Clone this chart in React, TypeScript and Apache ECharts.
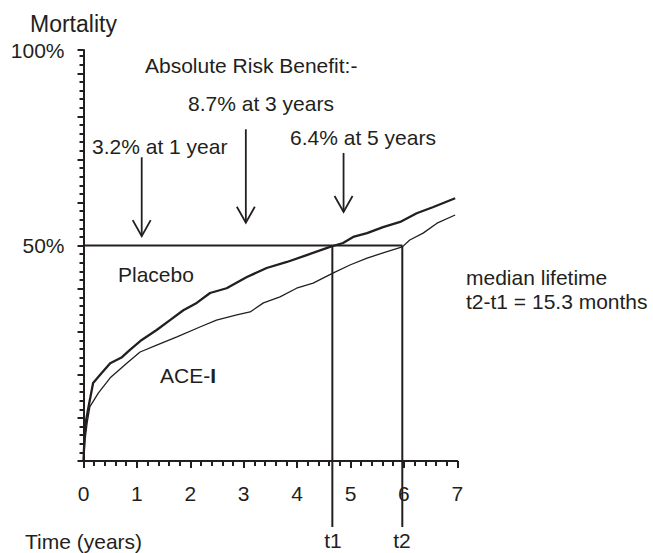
import React, { useEffect, useRef } from "react";
import * as echarts from "echarts";

// Kaplan-Meier style cumulative mortality curves: [time (years), mortality %]
const placebo: number[][] = [
  [0, 0], [0.02, 6], [0.05, 9.5], [0.09, 12.3], [0.18, 18.1], [0.34, 20.4], [0.5, 22.7],
  [0.72, 24.1], [0.87, 25.8], [1.09, 28.1], [1.37, 30.4], [1.62, 32.7], [1.87, 35.0],
  [2.12, 36.7], [2.37, 39.0], [2.68, 40.1], [3.06, 42.7], [3.43, 44.8], [3.81, 46.2],
  [4.18, 47.8], [4.55, 49.4], [4.67, 49.9], [4.86, 50.6], [5.05, 52.0], [5.31, 52.9],
  [5.61, 54.3], [5.93, 55.5], [6.24, 57.5], [6.54, 58.9], [6.96, 61.0],
];
const aceI: number[][] = [
  [0, 0], [0.03, 5], [0.07, 9], [0.12, 12.6], [0.28, 15.8], [0.5, 19.3], [0.81, 22.7],
  [1.06, 25.3], [1.37, 26.9], [1.75, 28.8], [2.18, 31.1], [2.49, 32.7], [2.87, 33.9],
  [3.12, 34.6], [3.37, 36.7], [3.68, 38.1], [3.99, 40.1], [4.3, 41.3], [4.67, 43.6],
  [4.99, 45.5], [5.31, 47.1], [5.61, 48.3], [5.97, 49.7], [6.11, 51.3], [6.36, 52.9],
  [6.62, 55.2], [6.96, 57.1],
];
// arrows: [time, top %, tip %]
const arrows: number[][] = [
  [1.09, 70.5, 52.2],
  [3.04, 77.0, 55.3],
  [4.87, 71.5, 57.8],
];
// median lifetime: [t1, t2, mortality %]
const median: number[][] = [[4.66, 5.97, 50]];

const xMin = 0;
const xMax = 7;
const yMin = 0;
const yTop = 95.4; // axis top, labelled "100%" in the original figure
const yLabels: Record<string, string> = { "50": "50%" };
const topLabel = "100%";

const INK = "#231f20";
const FONT = "Liberation Sans, Arial, Helvetica, sans-serif";

export default function App() {
  const ref = useRef<HTMLDivElement>(null);
  useEffect(() => {
    document.body.style.margin = "0";
    if (!ref.current) return;
    const chart = echarts.init(ref.current, undefined, { renderer: "svg" });
    const txt = (text: string, x: number, y: number, size = 21, align = "left", rich?: any) => ({
      type: "text",
      x,
      y,
      style: {
        text,
        fill: INK,
        font: `${size}px ${FONT}`,
        align,
        verticalAlign: "middle",
        rich,
      },
    });
    chart.setOption({
      animation: false,
      backgroundColor: "#ffffff",
      grid: { left: 83.5, right: 195.7, top: 50, bottom: 92, containLabel: false },
      xAxis: {
        type: "value",
        min: xMin,
        max: xMax,
        interval: 1,
        axisLine: { show: true, lineStyle: { color: INK, width: 2 } },
        axisTick: { show: true, inside: false, length: 7, lineStyle: { color: INK, width: 2 } },
        minorTick: { show: true, splitNumber: 5, length: 5, lineStyle: { color: INK, width: 2 } },
        splitLine: { show: false },
        axisLabel: { color: INK, fontSize: 21, fontFamily: FONT, margin: 22 },
      },
      yAxis: {
        type: "value",
        min: yMin,
        max: yTop,
        interval: 10,
        axisLine: { show: true, lineStyle: { color: INK, width: 2 } },
        axisTick: { show: true, inside: false, length: 6, lineStyle: { color: INK, width: 2 } },
        minorTick: { show: true, splitNumber: 5, length: 4, lineStyle: { color: INK, width: 2 } },
        splitLine: { show: false },
        axisLabel: {
          color: INK,
          fontSize: 21,
          fontFamily: FONT,
          margin: 19,
          showMaxLabel: true,
          formatter: (v: number) => {
            if (Math.abs(v - yTop) < 1e-6) return topLabel;
            return yLabels[String(v)] || "";
          },
        },
      },
      series: [
        {
          name: "Placebo",
          type: "line",
          data: placebo,
          showSymbol: false,
          lineStyle: { color: INK, width: 2.3 },
          z: 3,
        },
        {
          name: "ACE-I",
          type: "line",
          data: aceI,
          showSymbol: false,
          lineStyle: { color: INK, width: 1.3 },
          z: 3,
        },
        {
          type: "custom",
          data: arrows,
          encode: { x: 0, y: [1, 2] },
          clip: false,
          renderItem: (params: any, api: any) => {
            const top = api.coord([api.value(0), api.value(1)]);
            const tip = api.coord([api.value(0), api.value(2)]);
            const st = { stroke: INK, lineWidth: 1.8, fill: "none" };
            return {
              type: "group",
              children: [
                { type: "line", shape: { x1: top[0], y1: top[1], x2: tip[0], y2: tip[1] }, style: st },
                {
                  type: "polyline",
                  shape: { points: [[tip[0] - 9, tip[1] - 16], [tip[0], tip[1]], [tip[0] + 9, tip[1] - 16]] },
                  style: st,
                },
              ],
            };
          },
        },
        {
          type: "custom",
          data: median,
          encode: { x: [0, 1], y: 2 },
          clip: false,
          renderItem: (params: any, api: any) => {
            const m = api.value(2);
            const p0 = api.coord([xMin, m]);
            const p1 = api.coord([api.value(0), m]);
            const p2 = api.coord([api.value(1), m]);
            const base = api.coord([xMin, yMin]);
            const st = { stroke: INK, lineWidth: 2, fill: "none" };
            return {
              type: "group",
              children: [
                { type: "line", shape: { x1: p0[0], y1: p0[1], x2: p2[0], y2: p2[1] }, style: st },
                { type: "line", shape: { x1: p1[0], y1: p1[1], x2: p1[0], y2: base[1] + 66 }, style: st },
                { type: "line", shape: { x1: p2[0], y1: p2[1], x2: p2[0], y2: base[1] + 66 }, style: st },
              ],
            };
          },
        },
      ],
      graphic: [
        txt("Mortality", 30, 24, 23),
        txt("Absolute Risk Benefit:-", 145, 65),
        txt("8.7% at 3 years", 188, 103),
        txt("3.2% at 1 year", 92, 146),
        txt("6.4% at 5 years", 290, 137),
        txt("Placebo", 118, 274),
        txt("ACE-{b|I}", 160, 375, 21, "left", {
          b: { fontSize: 21, fontFamily: FONT, fontWeight: "bold", fill: INK, color: INK },
        }),
        txt("median lifetime", 466, 277),
        txt("t2-t1 = 15.3 months", 466, 301),
        txt("Time (years)", 25, 541),
        txt("t1", 333, 540, 21, "center"),
        txt("t2", 402, 540, 21, "center"),
      ],
    });
    return () => chart.dispose();
  }, []);
  return <div ref={ref} style={{ width: 653, height: 553 }} />;
}
